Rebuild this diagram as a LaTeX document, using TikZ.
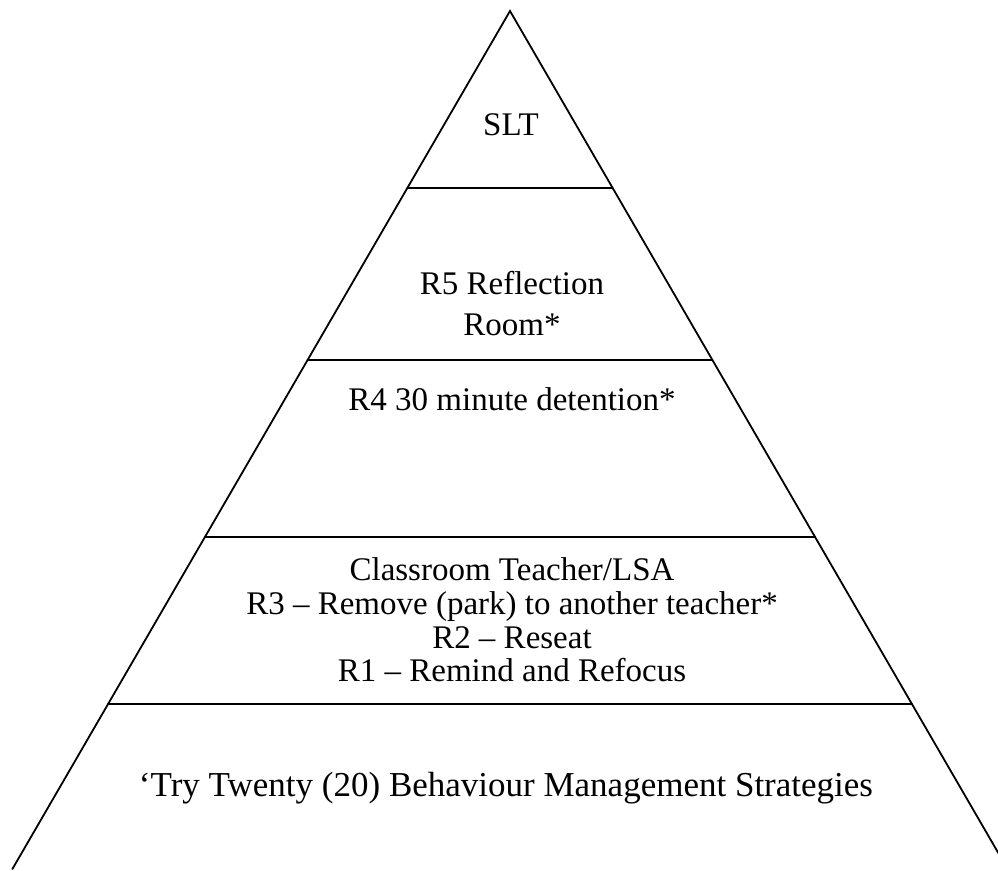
\documentclass[tikz,border=0pt]{standalone}
\usepackage{fontspec}
\setmainfont{Liberation Serif}
\begin{document}
\begin{tikzpicture}[x=1pt,y=-1pt,
  edge/.style={line width=1.8pt,line cap=round,line join=miter},
  lbl/.style={font=\fontsize{33}{33.7}\selectfont,align=center,inner sep=0pt}]
\useasboundingbox (0,0) rectangle (998,870);
\begin{scope}
\clip (0,0) rectangle (998,870);
\coordinate (apex) at (510,11);
\coordinate (bl) at (12.4,869);
\coordinate (br) at (1007.6,869);
\draw[edge] (bl) -- (apex) -- (br);
\coordinate (l1) at (407.3,188); \coordinate (r1) at (612.7,188);
\coordinate (l2) at (307.6,360); \coordinate (r2) at (712.4,360);
\coordinate (l3) at (204.9,537); \coordinate (r3) at (815.1,537);
\coordinate (l4) at (108.1,704); \coordinate (r4) at (911.9,704);
\draw[edge] (l1) -- (r1);
\draw[edge] (l2) -- (r2);
\draw[edge] (l3) -- (r3);
\draw[edge] (l4) -- (r4);
\end{scope}
\node[lbl] (slt) at (511,125) {SLT};
\node[lbl,font=\fontsize{33}{41}\selectfont] (r5) at (512,304) {R5 Reflection\\Room*};
\node[lbl] (r4) at (512,399) {R4 30 minute detention*};
\node[lbl] (cls) at (512,620) {Classroom Teacher/LSA\\R3 – Remove (park) to another teacher*\\R2 – Reseat\\R1 – Remind and Refocus};
\node[lbl,font=\fontsize{35}{40}\selectfont] (try) at (506,788) {‘Try Twenty (20) Behaviour Management Strategies};
\end{tikzpicture}
\end{document}
